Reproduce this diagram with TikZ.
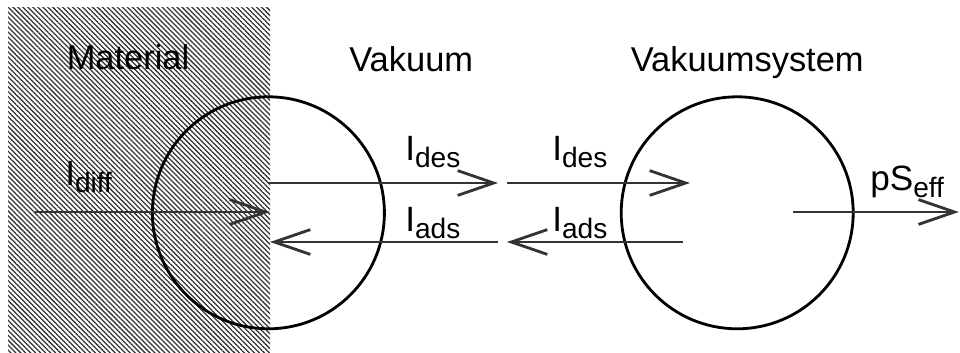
\documentclass[tikz,border=0pt]{standalone}
\usepackage{fontspec}
\setmainfont{Liberation Sans}
\usetikzlibrary{arrows.meta,patterns.meta}
\newcommand{\lowidx}[1]{\raisebox{-5pt}{\fontsize{20}{24}\selectfont #1}}

\begin{document}
\begin{tikzpicture}[
        ring/.style={circle, draw, line width=2pt, minimum size=5.8cm, inner sep=0pt, outer sep=0pt},
        flow/.style={line width=2pt, draw=black!80, -{Straight Barb[length=0.9cm, width=0.62cm, line width=2pt]}},
        head/.style={anchor=base, inner sep=0pt, font=\fontsize{24.5}{29}\selectfont},
        lbl/.style={anchor=base west, inner sep=0pt, font=\fontsize{25}{30}\selectfont},
    ]
        \useasboundingbox (0, 0) rectangle (24, 8.8);

        % Material (hatched)
        \fill[pattern={Lines[angle=-45, distance=2.5pt, line width=0.9pt]}, pattern color=black!80] (0.2, 0) rectangle (6.75, 8.6);

        % Volumes
        \node[ring] (VAK) at (6.71, 3.48) {};
        \node[ring] (SYS) at (18.43, 3.48) {};

        % Headings
        \node[head] (MAT) at (3.2, 7.05) {Material};
        \node[head] (VAKT) at (10.28, 7.0) {Vakuum};
        \node[head] (SYST) at (18.68, 7.0) {Vakuumsystem};

        % Arrow ends
        \coordinate (D0) at (0.875, 3.5);
        \coordinate (D1) at (6.75, 3.5);
        \coordinate (A0) at (6.725, 4.225);
        \coordinate (A1) at (12.45, 4.225);
        \coordinate (A2) at (12.675, 4.225);
        \coordinate (A3) at (17.25, 4.225);
        \coordinate (B0) at (6.75, 2.75);
        \coordinate (B1) at (12.45, 2.75);
        \coordinate (B2) at (12.675, 2.75);
        \coordinate (B3) at (17.075, 2.75);
        \coordinate (P0) at (19.825, 3.5);
        \coordinate (P1) at (23.97, 3.5);

        % Fluxes
        \draw[flow] (D0) -- (D1);
        \draw[flow] (A0) -- (A1);
        \draw[flow] (A2) -- (A3);
        \draw[flow] (B1) -- (B0);
        \draw[flow] (B3) -- (B2);
        \draw[flow] (P0) -- (P1);

        % Flux labels
        \node[lbl] (LDIFF) at (1.625, 4.175) {I\lowidx{diff}};
        \node[lbl] (LDES1) at (10.125, 4.8) {I\lowidx{des}};
        \node[lbl] (LDES2) at (13.8, 4.8) {I\lowidx{des}};
        \node[lbl] (LADS1) at (10.125, 3.025) {I\lowidx{ads}};
        \node[lbl] (LADS2) at (13.8, 3.025) {I\lowidx{ads}};
        \node[lbl] (LPS) at (21.75, 4.05) {pS\lowidx{eff}};
    \end{tikzpicture}
\end{document}
